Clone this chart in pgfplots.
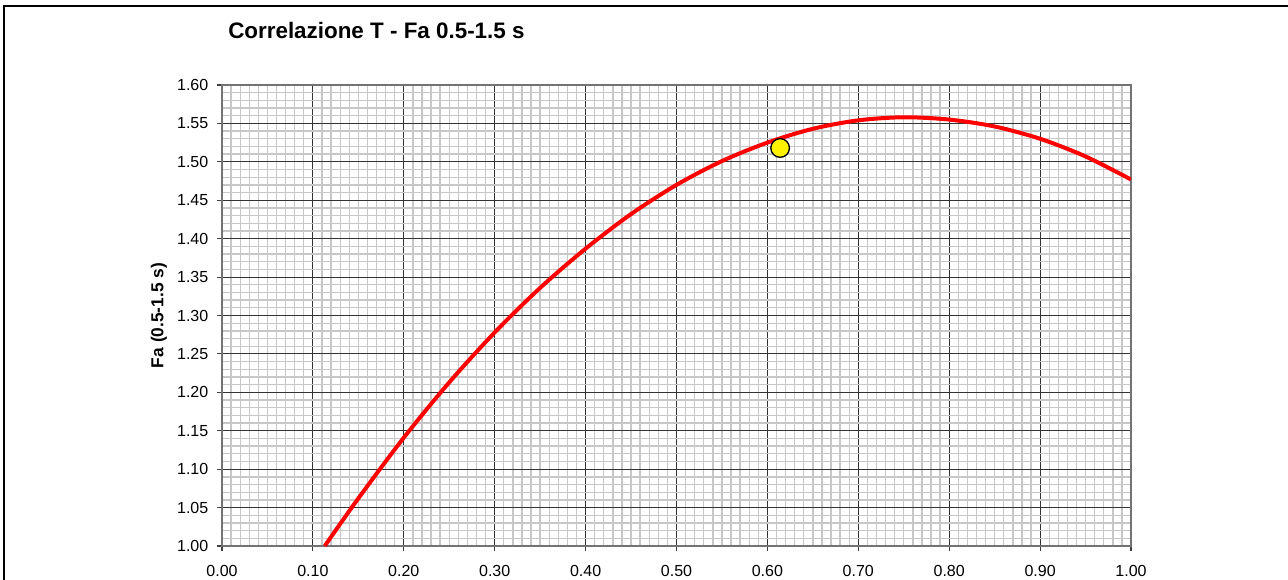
\documentclass[border=0pt]{standalone}
\usepackage{fontspec}
\setmainfont{Liberation Sans}
\usepackage{pgfplots}
\pgfplotsset{compat=1.18}
\begin{document}
\begin{tikzpicture}[x=0.75pt,y=-0.75pt]
\useasboundingbox (0,0) rectangle (1288,580);
\clip (0,0) rectangle (1288,580);
\draw[line width=1.6pt] (4,6) rectangle (1310,620);
\begin{axis}[
  at={(166.5pt,-409.5pt)}, anchor=south west,
  scale only axis, width=681.75pt, height=345.75pt,
  xmin=0, xmax=1, ymin=1, ymax=1.6,
  xtick={0,0.1,0.2,0.3,0.4,0.5,0.6,0.7,0.8,0.9,1},
  ytick={1,1.05,1.1,1.15,1.2,1.25,1.3,1.35,1.4,1.45,1.5,1.55,1.6},
  minor x tick num=9, minor y tick num=4,
  grid=both,
  major grid style={black!80, line width=0.8pt},
  minor grid style={black!22, line width=1pt},
  axis line style={black!55, line width=0.9pt},
  tick pos=left, tick align=outside,
  major tick length=3.75pt, minor tick length=0pt,
  tick style={black!75, line width=0.8pt},
  /pgf/number format/.cd, fixed, fixed zerofill, precision=2, assume math mode=true,
  /pgfplots/.cd,
  tick label style={font=\fontsize{12}{14}\selectfont},
  xticklabel style={yshift=-7.5pt},
  yticklabel style={xshift=-3pt},
  ylabel={Fa (0.5-1.5 s)},
  ylabel style={font=\bfseries\fontsize{13}{15}\selectfont, at={(axis description cs:-0.0695,0.5)}, anchor=center, rotate=0},
]
\addplot[red, line width=3pt, smooth] coordinates {
(0.113,1.000) (0.15,1.062) (0.20,1.141) (0.25,1.213) (0.30,1.278) (0.35,1.336)
(0.40,1.387) (0.45,1.432) (0.50,1.470) (0.55,1.501) (0.60,1.525) (0.65,1.543)
(0.70,1.554) (0.75,1.558) (0.80,1.555) (0.85,1.546) (0.90,1.530) (0.95,1.507)
(1.00,1.477)
};
\addplot[only marks, mark=*, mark size=7pt, mark options={fill=yellow, draw=black, line width=1pt}] coordinates {(0.614,1.518)};
\end{axis}
\node[anchor=west, inner sep=0pt, font=\bfseries\fontsize{16.8}{19}\selectfont] at (228,30) {Correlazione T - Fa 0.5-1.5 s};
\end{tikzpicture}
\end{document}
